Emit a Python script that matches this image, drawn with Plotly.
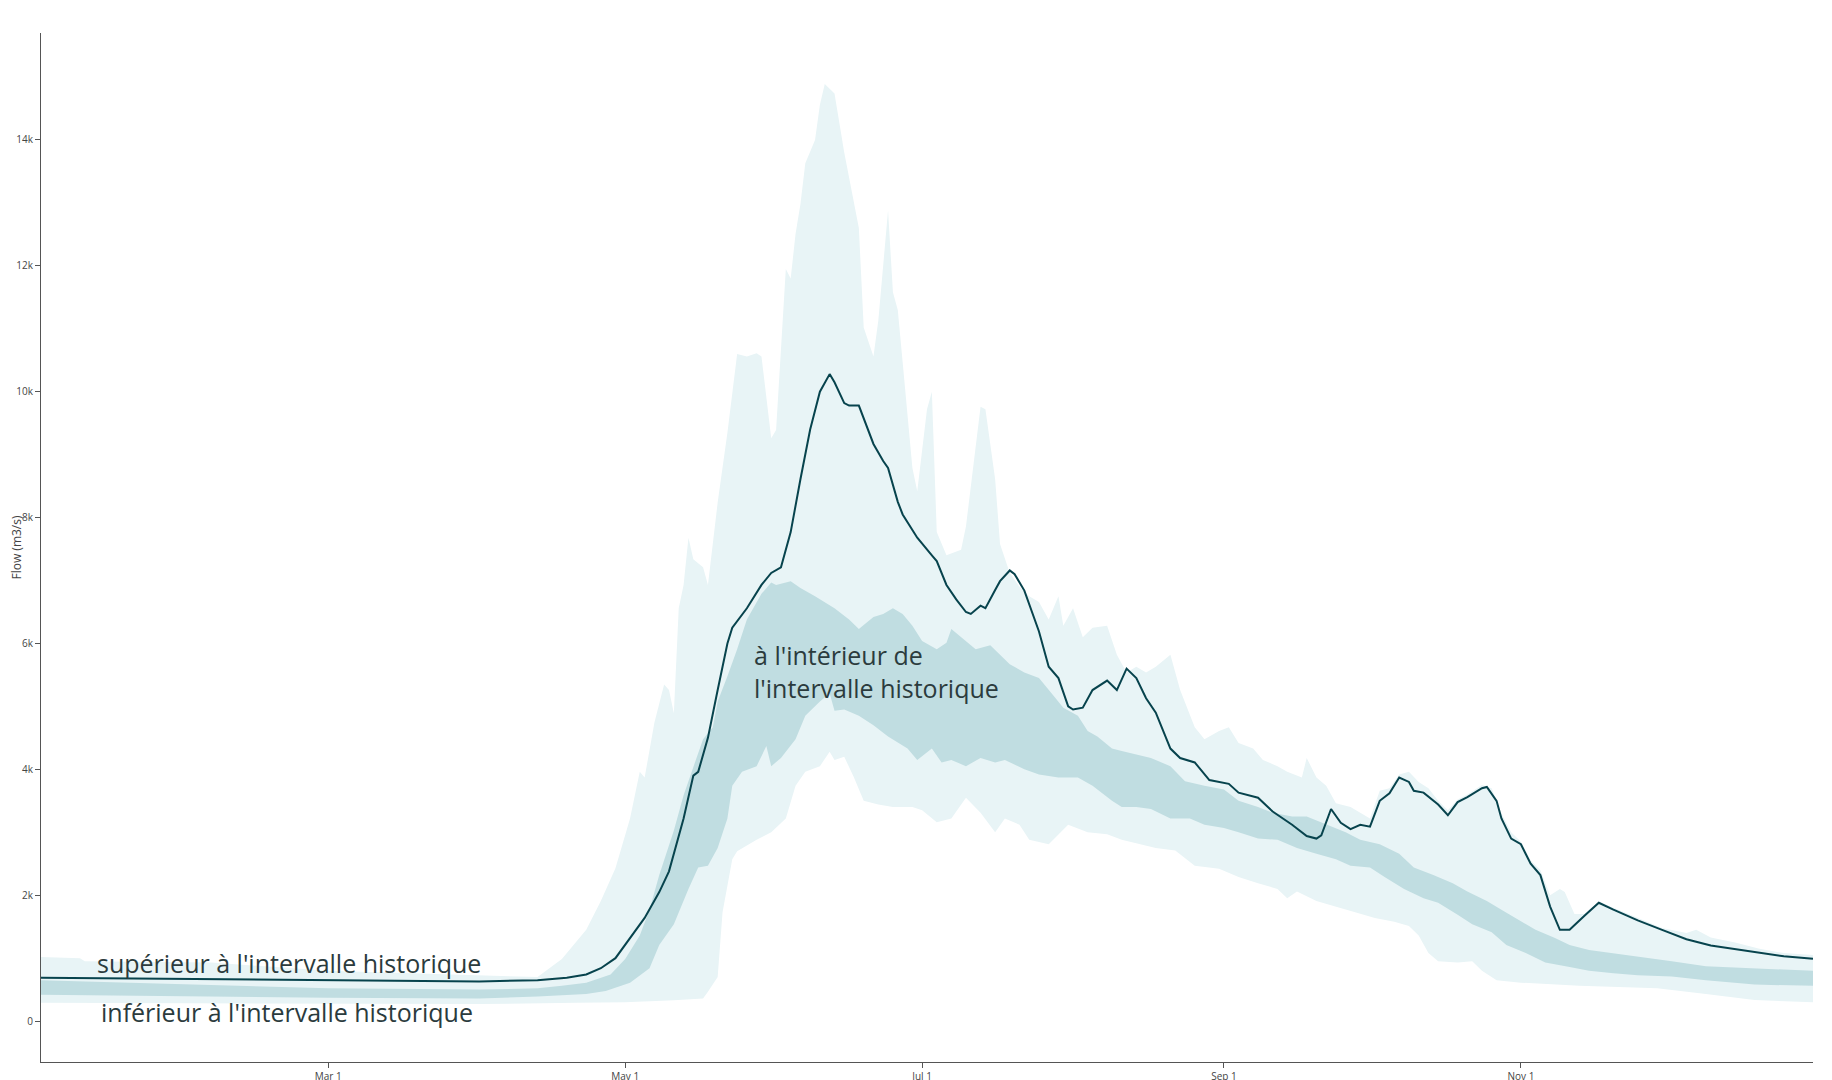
import plotly.graph_objects as go

# current year flow (m3/s)
flow_dates = ["2023-01-01", "2023-01-31", "2023-03-01", "2023-04-01", "2023-04-13", "2023-04-19",
              "2023-04-23", "2023-04-26", "2023-04-29", "2023-05-01", "2023-05-05", "2023-05-08",
              "2023-05-10", "2023-05-13", "2023-05-15", "2023-05-16", "2023-05-18", "2023-05-20",
              "2023-05-22", "2023-05-23", "2023-05-25", "2023-05-26", "2023-05-29", "2023-05-31",
              "2023-06-02", "2023-06-04", "2023-06-06", "2023-06-08", "2023-06-10", "2023-06-11",
              "2023-06-12", "2023-06-13", "2023-06-15", "2023-06-16", "2023-06-18", "2023-06-21",
              "2023-06-23", "2023-06-24", "2023-06-26", "2023-06-27", "2023-06-30", "2023-07-03",
              "2023-07-04", "2023-07-06", "2023-07-08", "2023-07-10", "2023-07-11", "2023-07-13",
              "2023-07-14", "2023-07-16", "2023-07-17", "2023-07-19", "2023-07-20", "2023-07-22",
              "2023-07-25", "2023-07-27", "2023-07-29", "2023-07-31", "2023-08-01", "2023-08-03",
              "2023-08-05", "2023-08-08", "2023-08-10", "2023-08-12", "2023-08-14", "2023-08-16",
              "2023-08-18", "2023-08-21", "2023-08-23", "2023-08-26", "2023-08-29", "2023-09-02",
              "2023-09-04", "2023-09-08", "2023-09-11", "2023-09-15", "2023-09-18", "2023-09-20",
              "2023-09-21", "2023-09-23", "2023-09-25", "2023-09-27", "2023-09-29", "2023-10-01",
              "2023-10-03", "2023-10-05", "2023-10-07", "2023-10-09", "2023-10-10", "2023-10-12",
              "2023-10-15", "2023-10-17", "2023-10-19", "2023-10-21", "2023-10-24", "2023-10-25",
              "2023-10-27", "2023-10-28", "2023-10-30", "2023-11-01", "2023-11-03", "2023-11-05",
              "2023-11-07", "2023-11-09", "2023-11-11", "2023-11-14", "2023-11-17", "2023-11-20",
              "2023-11-25", "2023-11-30", "2023-12-05", "2023-12-10", "2023-12-15", "2023-12-20",
              "2023-12-25", "2023-12-31"]
flow = [690, 670, 650, 630, 650, 690, 740, 840, 1000, 1210, 1640, 2050,
        2380, 3220, 3900, 3960, 4500, 5260, 6000, 6250, 6450, 6560, 6930, 7120,
        7210, 7770, 8610, 9400, 10000, 10150, 10280, 10150, 9820, 9780, 9780, 9170,
        8900, 8790, 8250, 8050, 7680, 7400, 7310, 6930, 6700, 6500, 6470, 6600,
        6560, 6850, 6990, 7160, 7100, 6840, 6190, 5630, 5450, 5000, 4950, 4980,
        5260, 5410, 5260, 5600, 5450, 5130, 4900, 4330, 4180, 4110, 3830, 3770,
        3630, 3550, 3330, 3120, 2940, 2900, 2950, 3370, 3150, 3050, 3120, 3090,
        3500, 3620, 3870, 3800, 3660, 3630, 3440, 3270, 3480, 3560, 3700, 3720,
        3500, 3220, 2900, 2810, 2500, 2320, 1820, 1450, 1450, 1670, 1880, 1770,
        1600, 1450, 1300, 1200, 1140, 1090, 1030, 990]

# historical maximum
max_dates = ["2023-01-01", "2023-01-09", "2023-01-10", "2023-02-05", "2023-03-01", "2023-04-01",
             "2023-04-13", "2023-04-18", "2023-04-23", "2023-04-26", "2023-04-29", "2023-05-02",
             "2023-05-04", "2023-05-05", "2023-05-07", "2023-05-09", "2023-05-10", "2023-05-11",
             "2023-05-12", "2023-05-13", "2023-05-14", "2023-05-15", "2023-05-17", "2023-05-18",
             "2023-05-20", "2023-05-22", "2023-05-24", "2023-05-26", "2023-05-28", "2023-05-29",
             "2023-05-31", "2023-06-01", "2023-06-03", "2023-06-04", "2023-06-05", "2023-06-06",
             "2023-06-07", "2023-06-09", "2023-06-10", "2023-06-11", "2023-06-13", "2023-06-15",
             "2023-06-17", "2023-06-18", "2023-06-19", "2023-06-21", "2023-06-22", "2023-06-24",
             "2023-06-25", "2023-06-26", "2023-06-27", "2023-06-29", "2023-06-30", "2023-07-02",
             "2023-07-03", "2023-07-04", "2023-07-06", "2023-07-09", "2023-07-10", "2023-07-12",
             "2023-07-13", "2023-07-14", "2023-07-16", "2023-07-17", "2023-07-19", "2023-07-21",
             "2023-07-23", "2023-07-25", "2023-07-27", "2023-07-29", "2023-07-30", "2023-08-01",
             "2023-08-03", "2023-08-05", "2023-08-08", "2023-08-10", "2023-08-12", "2023-08-14",
             "2023-08-16", "2023-08-18", "2023-08-21", "2023-08-23", "2023-08-26", "2023-08-28",
             "2023-08-31", "2023-09-02", "2023-09-04", "2023-09-07", "2023-09-09", "2023-09-12",
             "2023-09-14", "2023-09-17", "2023-09-18", "2023-09-20", "2023-09-22", "2023-09-24",
             "2023-09-27", "2023-10-01", "2023-10-03", "2023-10-05", "2023-10-07", "2023-10-09",
             "2023-10-11", "2023-10-13", "2023-10-15", "2023-10-17", "2023-10-19", "2023-10-21",
             "2023-10-24", "2023-10-26", "2023-10-28", "2023-10-30", "2023-11-01", "2023-11-03",
             "2023-11-05", "2023-11-07", "2023-11-09", "2023-11-10", "2023-11-12", "2023-11-14",
             "2023-11-17", "2023-11-20", "2023-11-25", "2023-11-30", "2023-12-05", "2023-12-07",
             "2023-12-10", "2023-12-15", "2023-12-20", "2023-12-25", "2023-12-31"]
flow_max = [1020, 1000, 950, 930, 800, 720,
            700, 985, 1450, 1910, 2430, 3220,
            3960, 3870, 4740, 5350, 5260, 4890,
            6560, 6930, 7680, 7340, 7210, 6930,
            8240, 9350, 10600, 10560, 10610, 10560,
            9260, 9390, 11950, 11800, 12510, 12980,
            13630, 14000, 14560, 14890, 14740, 13800,
            12980, 12600, 11020, 10560, 11130, 12880,
            11580, 11300, 10470, 8790, 8420, 9720,
            10000, 7770, 7400, 7490, 7860, 9170,
            9760, 9720, 8610, 7580, 7120, 6900,
            6750, 6660, 6380, 6750, 6280, 6560,
            6100, 6250, 6280, 5820, 5540, 5630,
            5540, 5630, 5820, 5260, 4670, 4480,
            4610, 4670, 4420, 4330, 4150, 4050,
            3960, 3870, 4180, 3870, 3740, 3460,
            3400, 3220, 3660, 3700, 3920, 3960,
            3800, 3700, 3500, 3350, 3520, 3600,
            3750, 3700, 3300, 3000, 2850, 2550,
            2400, 2000, 2100, 2050, 1700, 1700,
            1900, 1800, 1640, 1480, 1400, 1450,
            1330, 1250, 1150, 1080, 1050]

# historical 75th percentile
p75_dates = ["2023-01-01", "2023-02-01", "2023-03-01", "2023-04-01", "2023-04-13", "2023-04-18",
             "2023-04-23", "2023-04-28", "2023-05-01", "2023-05-04", "2023-05-06", "2023-05-08",
             "2023-05-11", "2023-05-13", "2023-05-16", "2023-05-17", "2023-05-19", "2023-05-20",
             "2023-05-22", "2023-05-24", "2023-05-26", "2023-05-29", "2023-05-31", "2023-06-01",
             "2023-06-04", "2023-06-06", "2023-06-09", "2023-06-11", "2023-06-13", "2023-06-16",
             "2023-06-18", "2023-06-21", "2023-06-23", "2023-06-25", "2023-06-27", "2023-06-29",
             "2023-07-01", "2023-07-04", "2023-07-06", "2023-07-07", "2023-07-10", "2023-07-12",
             "2023-07-15", "2023-07-17", "2023-07-19", "2023-07-22", "2023-07-25", "2023-07-28",
             "2023-07-30", "2023-08-02", "2023-08-04", "2023-08-06", "2023-08-09", "2023-08-11",
             "2023-08-14", "2023-08-17", "2023-08-21", "2023-08-24", "2023-08-28", "2023-09-01",
             "2023-09-04", "2023-09-08", "2023-09-11", "2023-09-15", "2023-09-18", "2023-09-22",
             "2023-09-26", "2023-09-29", "2023-10-03", "2023-10-07", "2023-10-10", "2023-10-14",
             "2023-10-18", "2023-10-21", "2023-10-25", "2023-10-28", "2023-11-01", "2023-11-04",
             "2023-11-08", "2023-11-11", "2023-11-15", "2023-11-20", "2023-11-25", "2023-12-02",
             "2023-12-09", "2023-12-19", "2023-12-31"]
flow_p75 = [650, 580, 520, 500, 520, 560,
            610, 740, 985, 1360, 1770, 2320,
            3030, 3590, 4240, 4480, 4670, 5080,
            5480, 5910, 6380, 6790, 6970, 6930,
            6990, 6880, 6750, 6660, 6560, 6380,
            6230, 6420, 6470, 6560, 6470, 6280,
            6040, 5910, 6010, 6230, 6040, 5910,
            5970, 5820, 5670, 5540, 5450, 5170,
            4980, 4850, 4610, 4520, 4330, 4290,
            4240, 4180, 4050, 3810, 3740, 3680,
            3500, 3400, 3310, 3250, 3250, 3120,
            3000, 2880, 2810, 2660, 2440, 2320,
            2190, 2060, 1910, 1770, 1580, 1450,
            1320, 1210, 1130, 1080, 1020, 950,
            870, 840, 800]

# historical 25th percentile
p25_dates = ["2023-01-01", "2023-02-01", "2023-03-01", "2023-04-01", "2023-04-13", "2023-04-23",
             "2023-04-27", "2023-05-02", "2023-05-06", "2023-05-08", "2023-05-11", "2023-05-14",
             "2023-05-16", "2023-05-18", "2023-05-20", "2023-05-22", "2023-05-23", "2023-05-25",
             "2023-05-28", "2023-05-30", "2023-05-31", "2023-06-02", "2023-06-05", "2023-06-07",
             "2023-06-10", "2023-06-12", "2023-06-13", "2023-06-15", "2023-06-18", "2023-06-21",
             "2023-06-24", "2023-06-28", "2023-06-30", "2023-07-03", "2023-07-05", "2023-07-07",
             "2023-07-10", "2023-07-13", "2023-07-16", "2023-07-18", "2023-07-22", "2023-07-25",
             "2023-07-29", "2023-08-02", "2023-08-05", "2023-08-09", "2023-08-11", "2023-08-14",
             "2023-08-17", "2023-08-21", "2023-08-25", "2023-08-28", "2023-09-01", "2023-09-04",
             "2023-09-08", "2023-09-12", "2023-09-16", "2023-09-20", "2023-09-24", "2023-09-27",
             "2023-10-01", "2023-10-04", "2023-10-08", "2023-10-12", "2023-10-15", "2023-10-19",
             "2023-10-22", "2023-10-26", "2023-10-29", "2023-11-02", "2023-11-06", "2023-11-11",
             "2023-11-15", "2023-11-20", "2023-11-25", "2023-12-02", "2023-12-09", "2023-12-19",
             "2023-12-31"]
flow_p25 = [420, 390, 370, 360, 390, 430,
            480, 610, 840, 1210, 1540, 2100,
            2440, 2470, 2750, 3220, 3740, 3960,
            4050, 4370, 4050, 4180, 4480, 4850,
            5080, 5210, 4930, 4950, 4850, 4700,
            4520, 4330, 4150, 4330, 4110, 4150,
            4050, 4180, 4110, 4150, 4000, 3920,
            3870, 3870, 3740, 3500, 3400, 3400,
            3370, 3220, 3220, 3120, 3070, 3000,
            2900, 2880, 2750, 2660, 2570, 2470,
            2440, 2290, 2100, 1950, 1880, 1690,
            1540, 1410, 1210, 1080, 930, 860,
            800, 760, 730, 710, 650, 580,
            560]

# historical minimum
min_dates = ["2023-01-01", "2023-02-01", "2023-03-01", "2023-04-01", "2023-04-21", "2023-05-01",
             "2023-05-11", "2023-05-17", "2023-05-18", "2023-05-20", "2023-05-21", "2023-05-23",
             "2023-05-24", "2023-05-28", "2023-05-31", "2023-06-03", "2023-06-05", "2023-06-07",
             "2023-06-10", "2023-06-12", "2023-06-13", "2023-06-15", "2023-06-17", "2023-06-19",
             "2023-06-22", "2023-06-25", "2023-06-29", "2023-07-01", "2023-07-04", "2023-07-07",
             "2023-07-10", "2023-07-13", "2023-07-16", "2023-07-18", "2023-07-21", "2023-07-23",
             "2023-07-27", "2023-07-29", "2023-07-31", "2023-08-04", "2023-08-08", "2023-08-11",
             "2023-08-15", "2023-08-18", "2023-08-22", "2023-08-26", "2023-08-31", "2023-09-04",
             "2023-09-08", "2023-09-12", "2023-09-14", "2023-09-16", "2023-09-20", "2023-09-24",
             "2023-09-28", "2023-10-02", "2023-10-06", "2023-10-09", "2023-10-11", "2023-10-13",
             "2023-10-15", "2023-10-19", "2023-10-22", "2023-10-24", "2023-10-27", "2023-11-01",
             "2023-11-13", "2023-11-29", "2023-12-09", "2023-12-19", "2023-12-31"]
flow_min = [290, 280, 270, 270, 290, 300,
            330, 360, 465, 700, 1730, 2570,
            2700, 2880, 3000, 3220, 3740, 3960,
            4050, 4280, 4150, 4200, 3870, 3500,
            3440, 3400, 3400, 3350, 3160, 3220,
            3550, 3310, 3000, 3220, 3120, 2880,
            2810, 2970, 3120, 3000, 2970, 2880,
            2810, 2750, 2710, 2470, 2420, 2290,
            2190, 2100, 1950, 2060, 1910, 1820,
            1730, 1640, 1580, 1510, 1360, 1080,
            950, 930, 950, 800, 650, 610,
            560, 520, 430, 335, 300]

tick_dates = ["2023-03-01", "2023-05-01", "2023-07-01", "2023-09-01", "2023-11-01"]
tick_text = ["Mar 1", "May 1", "Jul 1", "Sep 1", "Nov 1"]

light = "#e8f4f6"
dark = "#c0dde1"
line_col = "#07434d"
text_col = "#2b3b3d"

fig = go.Figure()
fig.add_trace(go.Scatter(x=min_dates, y=flow_min, mode="lines", line=dict(width=0),
                         showlegend=False, hoverinfo="skip"))
fig.add_trace(go.Scatter(x=max_dates, y=flow_max, mode="lines", line=dict(width=0),
                         fill="tonexty", fillcolor=light, showlegend=False, hoverinfo="skip"))
fig.add_trace(go.Scatter(x=p25_dates, y=flow_p25, mode="lines", line=dict(width=0),
                         showlegend=False, hoverinfo="skip"))
fig.add_trace(go.Scatter(x=p75_dates, y=flow_p75, mode="lines", line=dict(width=0),
                         fill="tonexty", fillcolor=dark, showlegend=False, hoverinfo="skip"))
fig.add_trace(go.Scatter(x=flow_dates, y=flow, mode="lines",
                         line=dict(color=line_col, width=2), showlegend=False))

ann_font = dict(family="Open Sans", size=25, color=text_col)
fig.add_annotation(x="2023-01-12", y=920, text="supérieur à l'intervalle historique",
                   showarrow=False, xanchor="left", yanchor="middle", font=ann_font)
fig.add_annotation(x="2023-01-13", y=150, text="inférieur à l'intervalle historique",
                   showarrow=False, xanchor="left", yanchor="middle", font=ann_font)
fig.add_annotation(x="2023-05-27", y=5550, text="à l'intérieur de<br>l'intervalle historique",
                   showarrow=False, xanchor="left", yanchor="middle", align="left", font=ann_font)

# y axis title drawn as a rotated annotation so it sits left of the tick labels
fig.add_annotation(xref="paper", yref="paper", x=-0.0141, y=0.5, text="Flow (m3/s)",
                   textangle=-90, showarrow=False, xanchor="center", yanchor="middle",
                   borderpad=0, font=dict(family="Open Sans", size=12, color="#444"))

axis_font = dict(family="Open Sans", size=10, color="#444")
fig.update_layout(
    width=1832, height=1080,
    margin=dict(l=33, r=27, t=25, b=26),
    plot_bgcolor="white", paper_bgcolor="white",
    font=axis_font,
)
fig.update_xaxes(range=["2023-01-01", "2023-12-31"], tickvals=tick_dates, ticktext=tick_text,
                 showgrid=False, zeroline=False, showline=True, linecolor="#555", linewidth=1,
                 ticks="outside", ticklen=5, tickcolor="#555", automargin=False)
fig.update_yaxes(range=[-650, 15700], tickvals=[0, 2000, 4000, 6000, 8000, 10000, 12000, 14000],
                 ticktext=["0", "2k", "4k", "6k", "8k", "10k", "12k", "14k"],
                 showgrid=False, zeroline=False, showline=True, linecolor="#555", linewidth=1,
                 ticks="outside", ticklen=5, tickcolor="#555", automargin=False)

fig.write_html("out.html")
